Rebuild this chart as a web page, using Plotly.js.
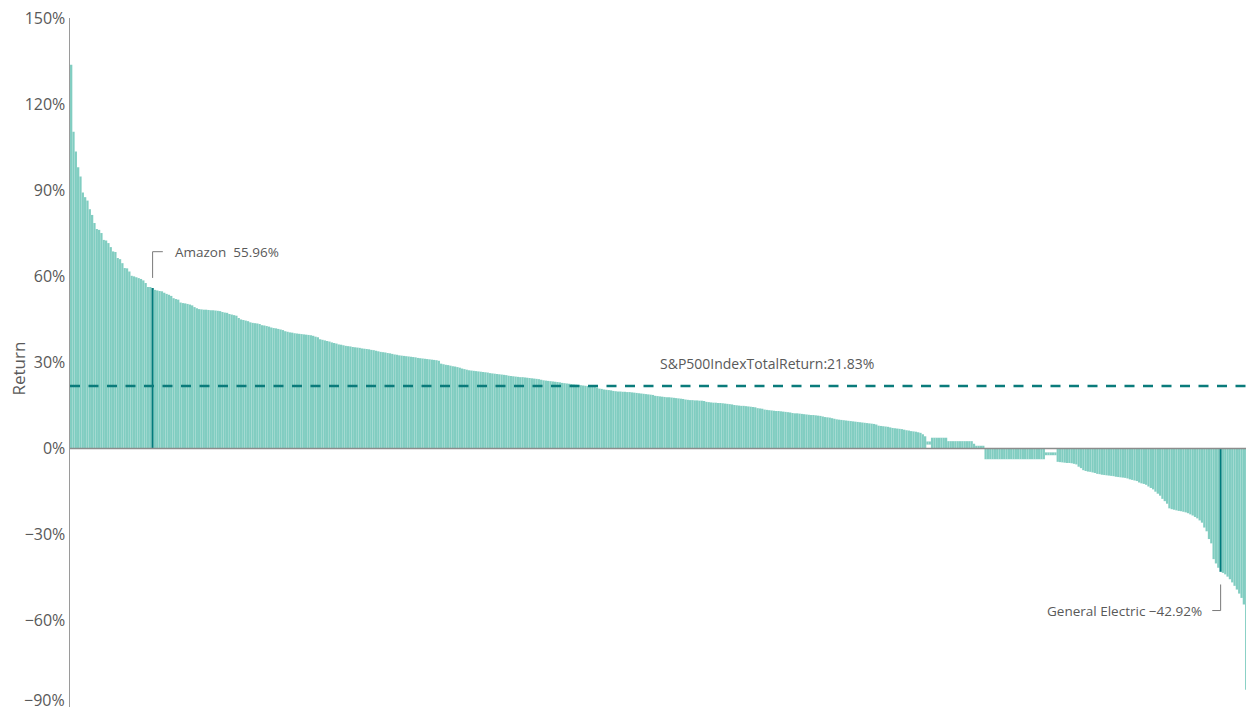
<!DOCTYPE html>
<html>
<head>
<meta charset="utf-8">
<script src="https://cdn.plot.ly/plotly-3.0.1.min.js"></script>
<style>
  html, body { margin: 0; padding: 0; background: #fff; }
  #chart { width: 1246px; height: 713px; }
</style>
</head>
<body>
<div id="chart"></div>
<script>
// Returns (%) of index constituents, sorted from best to worst
const returns = [
  133.7, 110.4, 103.5, 98.0, 94.8, 89.2, 87.6, 86.4, 83.4, 81.4,
  78.6, 76.5, 76.2, 75.1, 72.7, 72.5, 71.6, 70.2, 68.7, 68.5,
  66.4, 66.0, 64.6, 62.9, 62.8, 61.7, 60.2, 60.0, 59.7, 59.4,
  59.1, 58.6, 57.7, 56.3, 56.3, 55.96, 55.3, 55.1, 54.9, 54.8,
  54.3, 53.9, 53.6, 53.2, 52.4, 52.1, 51.9, 50.9, 50.7, 50.6,
  50.4, 50.2, 49.9, 49.3, 48.9, 48.6, 48.5, 48.4, 48.4, 48.3,
  48.2, 48.2, 48.1, 48.0, 47.9, 47.6, 47.4, 47.3, 46.9, 46.7,
  46.5, 46.3, 45.5, 45.0, 44.8, 44.6, 44.4, 44.0, 43.8, 43.7,
  43.6, 43.4, 43.0, 42.9, 42.7, 42.5, 42.2, 42.0, 41.9, 41.7,
  41.5, 41.3, 40.9, 40.7, 40.5, 40.4, 40.2, 40.1, 40.0, 39.9,
  39.8, 39.7, 39.6, 39.5, 39.3, 39.0, 38.8, 38.1, 37.9, 37.7,
  37.5, 37.3, 37.0, 36.8, 36.6, 36.3, 36.2, 36.0, 35.8, 35.7,
  35.6, 35.4, 35.3, 35.2, 35.1, 34.9, 34.8, 34.7, 34.6, 34.4,
  34.3, 34.1, 33.9, 33.7, 33.6, 33.5, 33.3, 33.2, 33.0, 32.8,
  32.7, 32.5, 32.4, 32.3, 32.2, 32.1, 32.0, 31.9, 31.8, 31.6,
  31.5, 31.4, 31.3, 31.2, 31.1, 31.0, 30.9, 30.8, 30.6, 29.6,
  29.4, 29.2, 29.1, 28.9, 28.7, 28.6, 28.4, 28.2, 27.9, 27.7,
  27.5, 27.3, 27.2, 27.1, 27.0, 26.9, 26.8, 26.7, 26.6, 26.5,
  26.3, 26.2, 26.1, 26.0, 25.9, 25.8, 25.7, 25.6, 25.4, 25.3,
  25.2, 25.1, 25.0, 24.9, 24.9, 24.8, 24.7, 24.6, 24.5, 24.4,
  24.3, 24.2, 24.0, 23.8, 23.7, 23.6, 23.5, 23.4, 23.3, 23.2,
  23.1, 22.9, 22.8, 22.7, 22.6, 22.5, 22.4, 22.3, 22.2, 22.1,
  22.0, 21.9, 21.8, 21.7, 21.6, 21.5, 21.3, 20.9, 20.8, 20.6,
  20.5, 20.4, 20.3, 20.1, 20.0, 19.9, 19.9, 19.8, 19.8, 19.7,
  19.7, 19.6, 19.5, 19.4, 19.3, 19.2, 19.1, 19.0, 18.9, 18.8,
  18.7, 18.4, 18.3, 18.2, 18.1, 18.0, 17.9, 17.9, 17.8, 17.7,
  17.6, 17.5, 17.4, 17.3, 17.1, 17.0, 16.9, 16.9, 16.8, 16.8,
  16.7, 16.7, 16.6, 16.3, 16.2, 16.1, 16.0, 16.0, 15.9, 15.9,
  15.8, 15.7, 15.6, 15.5, 15.4, 15.2, 15.1, 15.0, 14.9, 14.9,
  14.8, 14.7, 14.6, 14.5, 14.4, 14.1, 14.0, 13.9, 13.6, 13.5,
  13.4, 13.3, 13.2, 13.1, 13.1, 13.0, 12.9, 12.8, 12.7, 12.6,
  12.4, 12.3, 12.3, 12.2, 12.1, 12.0, 11.9, 11.8, 11.7, 11.7,
  11.6, 11.5, 11.4, 11.2, 11.0, 10.9, 10.8, 10.6, 10.4, 10.2,
  10.1, 10.0, 9.9, 9.8, 9.7, 9.6, 9.5, 9.4, 9.3, 9.2,
  9.1, 9.0, 8.9, 8.8, 8.7, 8.6, 8.4, 8.0, 7.9, 7.8,
  7.7, 7.6, 7.4, 7.2, 7.1, 7.0, 6.9, 6.8, 6.6, 6.4,
  6.3, 6.1, 6.0, 5.9, 5.7, 5.5, 5.0, 4.3, 2.5, 2.5,
  3.8, 3.8, 3.8, 3.8, 3.8, 3.8, 3.8, 2.6, 2.6, 2.6,
  2.6, 2.6, 2.6, 2.6, 2.6, 2.6, 2.6, 2.6, 1.7, 1.0,
  1.0, 1.0, 1.0, -3.7, -3.7, -3.7, -3.7, -3.7, -3.7, -3.7,
  -3.7, -3.7, -3.7, -3.7, -3.7, -3.7, -3.7, -3.7, -3.7, -3.7,
  -3.7, -3.7, -3.7, -3.7, -3.7, -3.7, -3.7, -3.7, -3.7, -2.3,
  -2.3, -2.3, -2.3, -2.3, -4.6, -4.7, -4.8, -4.9, -5.0, -5.0,
  -5.1, -5.3, -5.5, -6.3, -6.8, -7.5, -7.8, -8.0, -8.1, -8.3,
  -8.5, -8.8, -8.9, -9.1, -9.2, -9.3, -9.4, -9.5, -9.6, -9.8,
  -9.9, -10.0, -10.1, -10.2, -10.4, -10.7, -10.9, -11.1, -11.3, -11.8,
  -12.1, -12.3, -12.6, -13.2, -13.7, -14.2, -15.0, -15.7, -16.4, -17.5,
  -18.3, -19.2, -20.8, -21.1, -21.3, -21.5, -21.7, -21.8, -22.0, -22.2,
  -22.5, -22.9, -23.3, -23.8, -24.3, -25.0, -25.8, -27.5, -28.8, -31.5,
  -33.0, -38.5, -40.0, -41.5, -42.92, -43.3, -43.8, -44.6, -45.5, -46.6,
  -47.8, -49.1, -50.5, -52.0, -54.3, -84.0
];

// Bars in the original that do not start at 0 (near end of bar)
const floatIdx  = [368, 369, 419, 420, 421, 422, 423];
const floatNear = [1.4, 1.4, -1.3, -1.3, -1.3, -1.3, -1.3];

// Highlighted stocks
const highlightIdx   = [35, 494];
const highlightNames = ['Amazon', 'General Electric'];

const indexReturn = 21.83;

const tickVals   = [-90, -60, -30, 0, 30, 60, 90, 120, 150];
const tickLabels = ['\u221290%', '\u221260%', '\u221230%', '0%', '30%', '60%', '90%', '120%', '150%'];

// ---- build trace ----
const xs = returns.map((_, i) => i);
const bases = returns.map(() => 0);
const heights = returns.slice();
floatIdx.forEach((idx, j) => {
  bases[idx] = floatNear[j];
  heights[idx] = returns[idx] - floatNear[j];
});
const LIGHT = '#80cdc1';
const DARK = '#007b7b';
const colors = returns.map((_, i) => highlightIdx.includes(i) ? DARK : LIGHT);

const trace = {
  type: 'bar',
  x: xs,
  y: heights,
  base: bases,
  marker: { color: colors, line: { color: 'rgba(255,255,255,0.18)', width: 0.3 } },
  hoverinfo: 'skip'
};

const fmt = v => (v < 0 ? '\u2212' : '') + Math.abs(v).toFixed(2) + '%';
const amz = highlightIdx[0], ge = highlightIdx[1];
const amzLeadY = 68.6, geLeadY = -56.4;

// the lowest tick label sits at the bottom edge: draw it as an annotation nudged inside the page
const axisTickText = tickLabels.slice();
axisTickText[0] = '';

const layout = {
  width: 1246,
  height: 713,
  margin: { l: 70, r: 0, t: 18, b: 6 },
  paper_bgcolor: '#fff',
  plot_bgcolor: '#fff',
  bargap: 0,
  showlegend: false,
  font: { family: '"Open Sans", "Noto Sans", sans-serif', color: '#595959' },
  xaxis: { visible: false, range: [-0.5, returns.length - 1.1], fixedrange: true },
  yaxis: {
    range: [-90, 150],
    tickvals: tickVals,
    ticktext: axisTickText,
    tickfont: { size: 16, color: '#595959' },
    ticklabeloverflow: 'allow',
    showgrid: false,
    zeroline: false,
    showline: true,
    linecolor: '#9a9a9a',
    linewidth: 1.5,
    ticks: '',
    fixedrange: true
  },
  shapes: [
    { type: 'line', xref: 'paper', x0: 0, x1: 1, yref: 'y', y0: 0, y1: 0,
      line: { color: '#8c8c8c', width: 1.5 }, layer: 'above' },
    { type: 'line', xref: 'paper', x0: 0, x1: 1, yref: 'y', y0: indexReturn, y1: indexReturn,
      line: { color: '#0a7b7b', width: 2.5, dash: '10px,8.5px' }, layer: 'above' },
    { type: 'path', xref: 'x', yref: 'y',
      path: `M ${amz},${returns[amz] + 3.5} L ${amz},${amzLeadY} L ${amz + 4.4},${amzLeadY}`,
      line: { color: '#7a7a7a', width: 1 } },
    { type: 'path', xref: 'x', yref: 'y',
      path: `M ${ge},${returns[ge] - 4.4} L ${ge},${geLeadY} L ${ge - 3.6},${geLeadY}`,
      line: { color: '#7a7a7a', width: 1 } }
  ],
  annotations: [
    { xref: 'x', yref: 'y', x: amz + 8.7, y: amzLeadY, xanchor: 'left', yanchor: 'middle',
      text: highlightNames[0] + '\u00a0 ' + fmt(returns[amz]), showarrow: false,
      font: { size: 13.5, color: '#595959' } },
    { xref: 'x', yref: 'y', x: ge - 7.3, y: geLeadY, xanchor: 'right', yanchor: 'middle',
      text: highlightNames[1] + ' ' + fmt(returns[ge]), showarrow: false,
      font: { size: 13.5, color: '#595959' } },
    { xref: 'x', yref: 'y', x: 299, y: 29.8, xanchor: 'center', yanchor: 'middle',
      text: 'S&P500IndexTotalReturn:' + indexReturn.toFixed(2) + '%', showarrow: false,
      font: { size: 14, color: '#595959' } },
    { xref: 'paper', yref: 'paper', x: -0.0438, y: 0.492, xanchor: 'center', yanchor: 'middle',
      text: 'Return', textangle: -90, showarrow: false,
      font: { size: 17, color: '#595959' } },
    { xref: 'paper', yref: 'y', x: 0, y: tickVals[0], xanchor: 'right', yanchor: 'bottom',
      xshift: -4, yshift: -5, text: tickLabels[0], showarrow: false, borderpad: 0,
      font: { size: 16, color: '#595959' } }
  ]
};

Plotly.newPlot('chart', [trace], layout, { displayModeBar: false, staticPlot: true });
</script>
</body>
</html>
